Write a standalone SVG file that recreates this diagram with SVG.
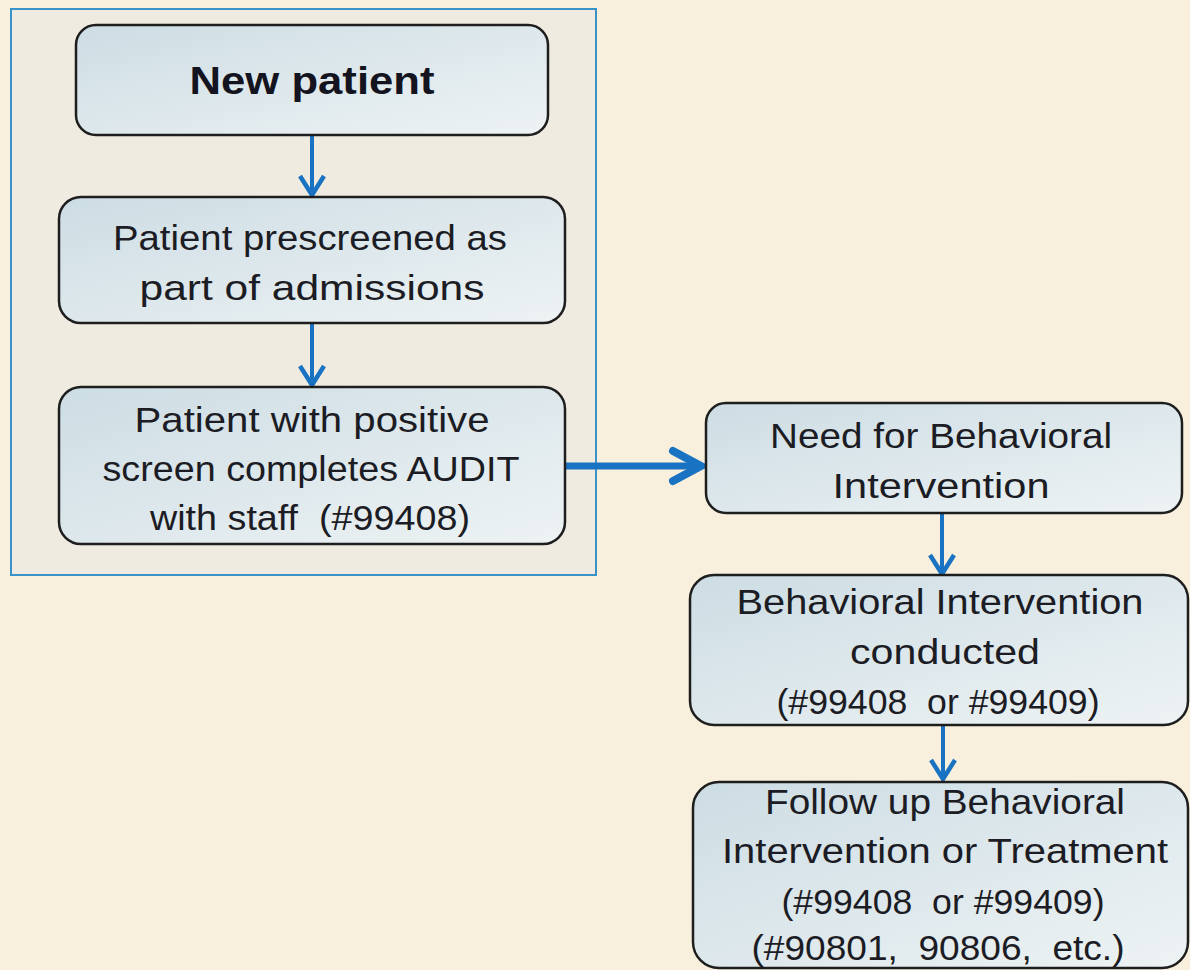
<svg xmlns="http://www.w3.org/2000/svg" width="1190" height="970" viewBox="0 0 1190 970">
<style>
.box{fill:url(#boxfill);stroke:#1e1e1e;stroke-width:2.5}
.t{font-family:"Liberation Sans",Arial,sans-serif;font-size:35px;fill:#1c1c24;text-anchor:middle}
.tb{font-family:"Liberation Sans",Arial,sans-serif;font-size:38px;font-weight:bold;fill:#141420;text-anchor:middle}
.conn{fill:none;stroke:#1a72c2}
.v{stroke-width:4;marker-end:url(#arrV)}
.h{stroke-width:7;marker-end:url(#arrH)}
</style>
<defs>
<linearGradient id="boxfill" x1="0" y1="0" x2="1" y2="1">
<stop offset="0" stop-color="#cddde4"/>
<stop offset="1" stop-color="#eef3f4"/>
</linearGradient>
<marker id="arrV" markerUnits="userSpaceOnUse" markerWidth="30" markerHeight="30" refX="22" refY="14" orient="auto" overflow="visible">
<path d="M3,2 L22,14 L3,26" fill="none" stroke="#1a72c2" stroke-width="4.5"/>
</marker>
<marker id="arrH" markerUnits="userSpaceOnUse" markerWidth="40" markerHeight="40" refX="31" refY="16" orient="auto" overflow="visible">
<path d="M3,1 L31,16 L3,31" fill="none" stroke="#1a72c2" stroke-width="8" stroke-linecap="round"/>
</marker>
</defs>
<rect width="1190" height="970" fill="#f8f0dc"/>
<rect id="container" x="11" y="9" width="585" height="566" fill="#efebe0" stroke="#3a93c8" stroke-width="2"/>

<g id="connectors">
<path class="conn v" d="M312,135 L312,195"/>
<path class="conn v" d="M312,323 L312,385"/>
<path class="conn h" d="M565,466 L701,466"/>
<path class="conn v" d="M942,513 L942,574"/>
<path class="conn v" d="M943,725 L943,779"/>
</g>

<g id="n1">
<rect class="box" x="76" y="25" width="472" height="110" rx="20"/>
<text class="tb" x="312" y="94" textLength="245" lengthAdjust="spacingAndGlyphs">New patient</text>
</g>
<g id="n2">
<rect class="box" x="59" y="197" width="506" height="126" rx="22"/>
<text class="t" x="310" y="250" textLength="394" lengthAdjust="spacingAndGlyphs">Patient prescreened as</text>
<text class="t" x="312" y="300" textLength="345" lengthAdjust="spacingAndGlyphs">part of admissions</text>
</g>
<g id="n3">
<rect class="box" x="59" y="387" width="506" height="157" rx="22"/>
<text class="t" x="312" y="432" textLength="355" lengthAdjust="spacingAndGlyphs">Patient with positive</text>
<text class="t" x="311" y="481" textLength="417" lengthAdjust="spacingAndGlyphs">screen completes AUDIT</text>
<text class="t" x="310" y="530" textLength="320" lengthAdjust="spacingAndGlyphs" xml:space="preserve">with staff  (#99408)</text>
</g>
<g id="n4">
<rect class="box" x="706" y="403" width="476" height="110" rx="20"/>
<text class="t" x="941" y="448" textLength="342" lengthAdjust="spacingAndGlyphs">Need for Behavioral</text>
<text class="t" x="941" y="498" textLength="217" lengthAdjust="spacingAndGlyphs">Intervention</text>
</g>
<g id="n5">
<rect class="box" x="690" y="575" width="498" height="150" rx="24"/>
<text class="t" x="940" y="614" textLength="407" lengthAdjust="spacingAndGlyphs">Behavioral Intervention</text>
<text class="t" x="945" y="664" textLength="190" lengthAdjust="spacingAndGlyphs">conducted</text>
<text class="t" x="938" y="714" textLength="323" lengthAdjust="spacingAndGlyphs" xml:space="preserve">(#99408  or #99409)</text>
</g>
<g id="n6">
<rect class="box" x="693" y="782" width="495" height="186" rx="26"/>
<text class="t" x="945" y="814" textLength="360" lengthAdjust="spacingAndGlyphs">Follow up Behavioral</text>
<text class="t" x="945" y="863" textLength="446" lengthAdjust="spacingAndGlyphs">Intervention or Treatment</text>
<text class="t" x="943" y="914" textLength="323" lengthAdjust="spacingAndGlyphs" xml:space="preserve">(#99408  or #99409)</text>
<text class="t" x="938" y="960" textLength="373" lengthAdjust="spacingAndGlyphs" xml:space="preserve">(#90801,  90806,  etc.)</text>
</g>
</svg>
